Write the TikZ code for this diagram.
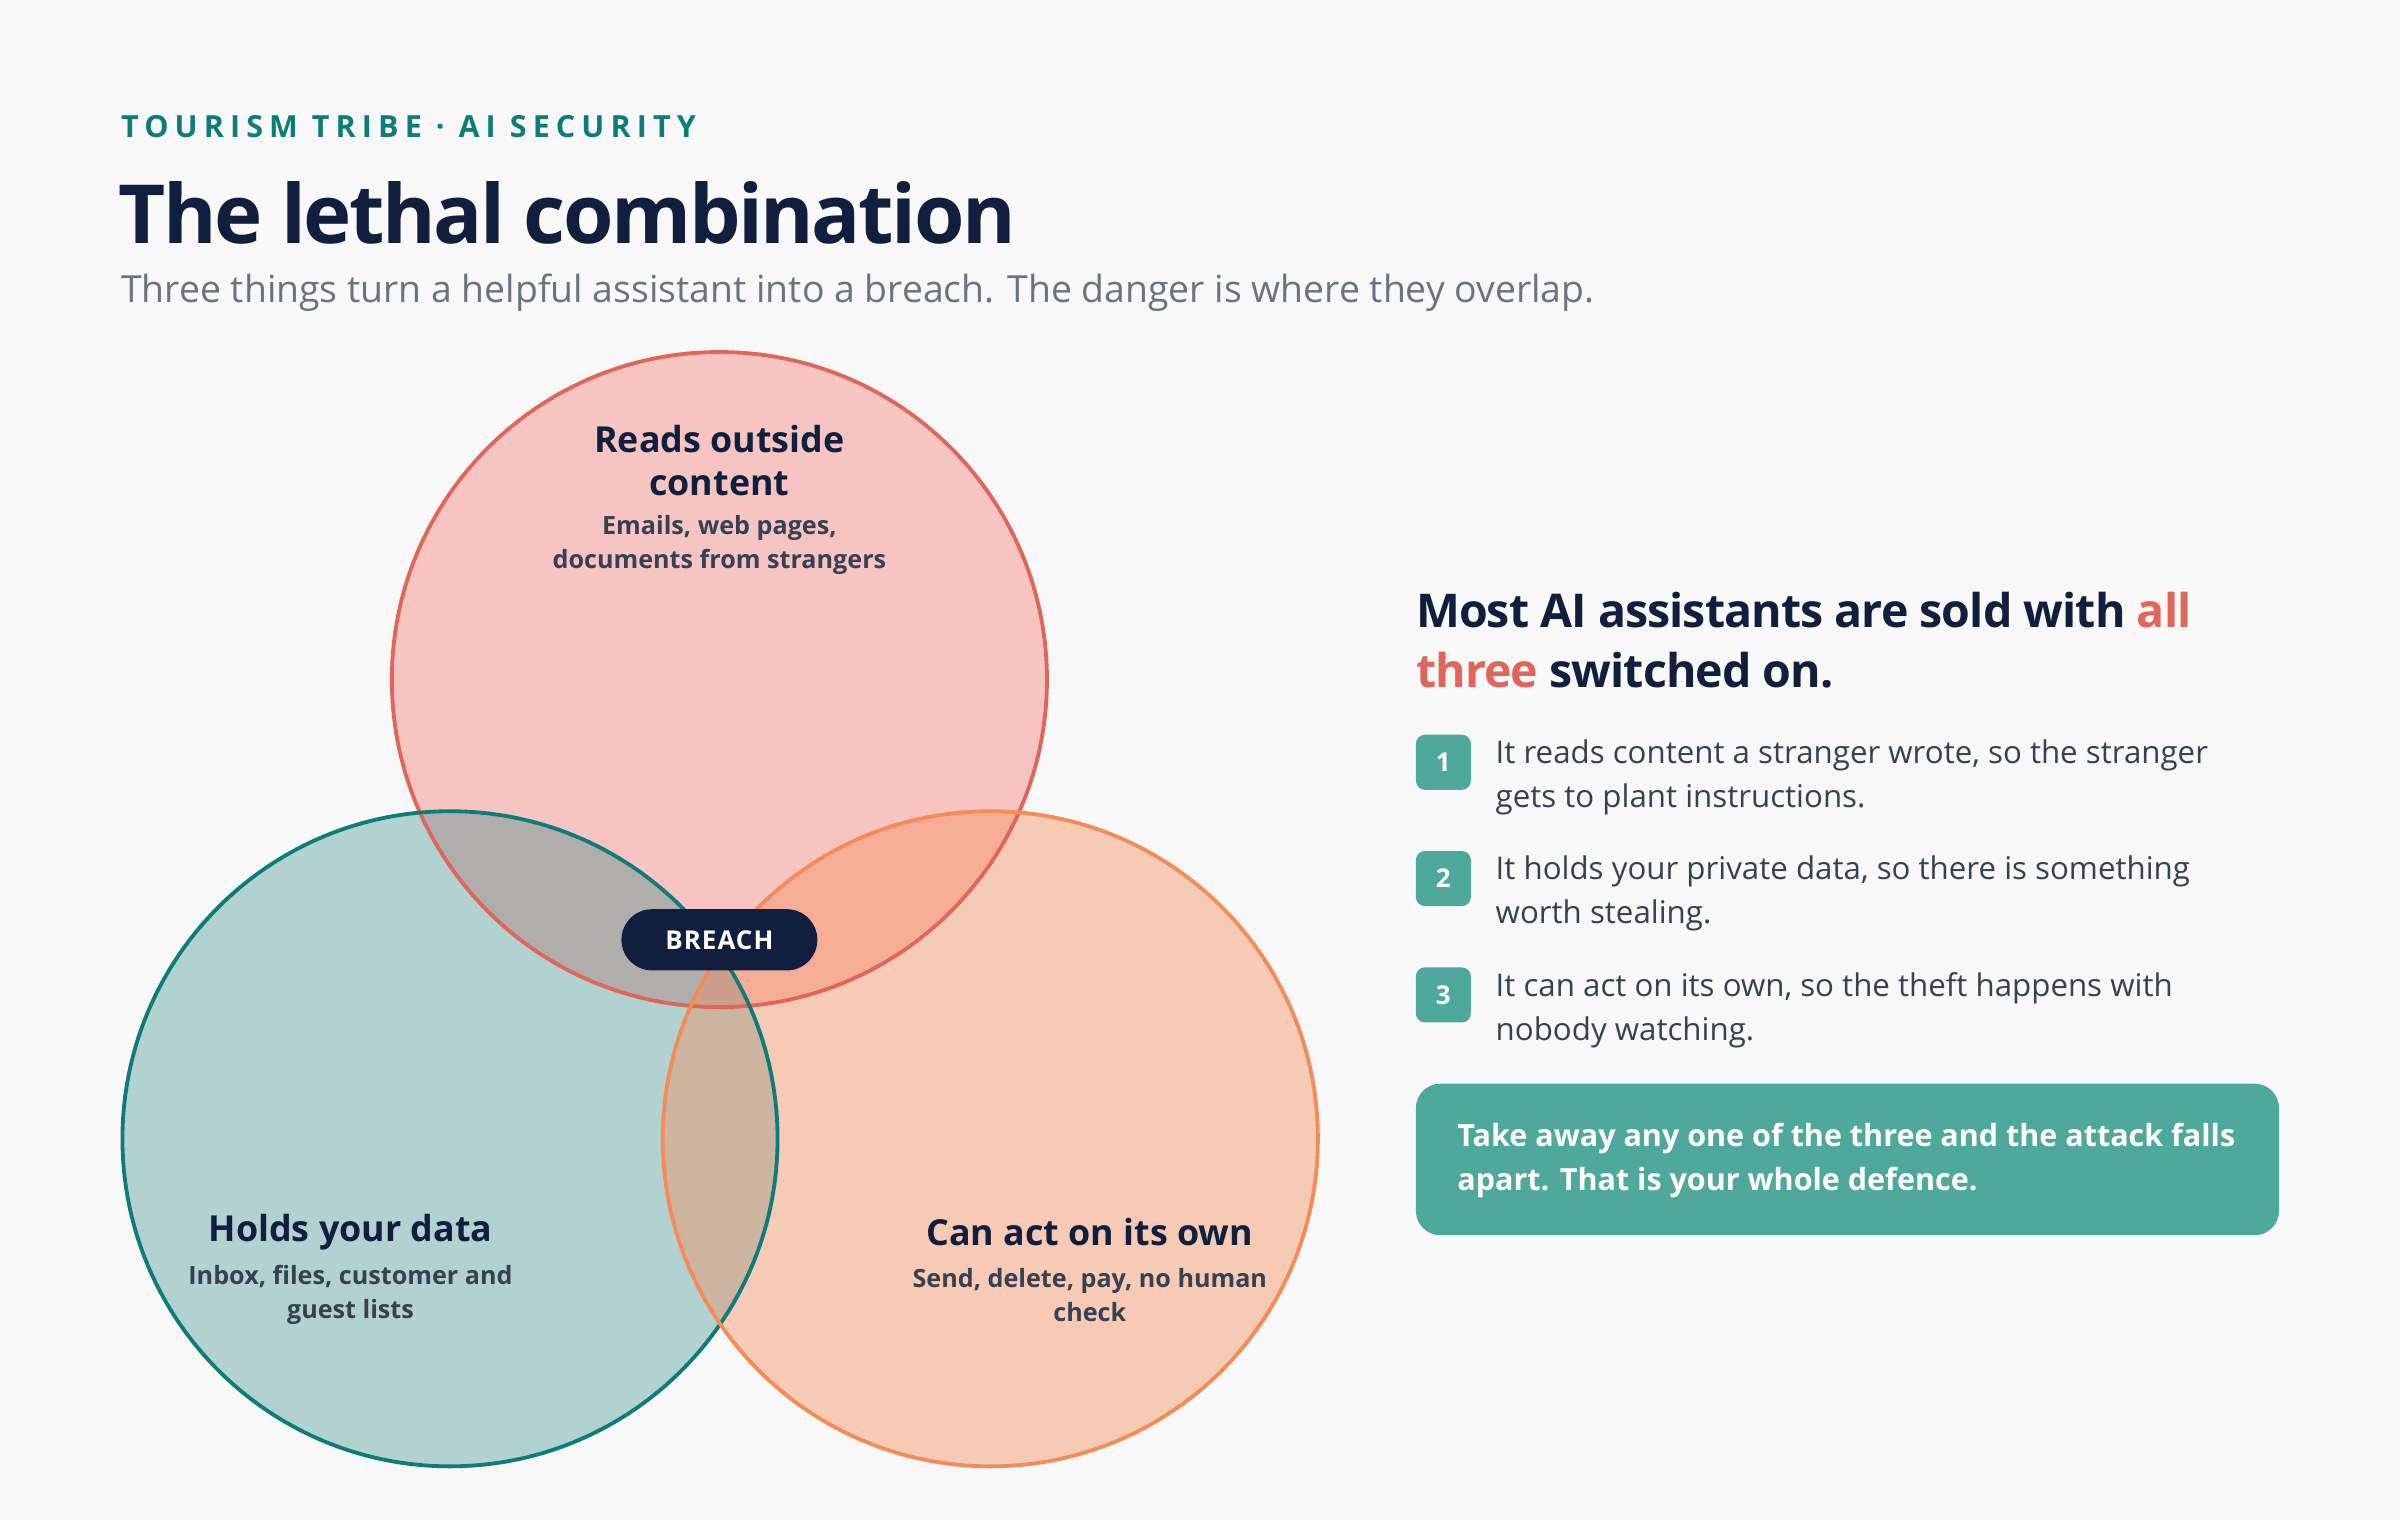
\documentclass[tikz,border=0pt]{standalone}
\usepackage{fontspec}
\setmainfont{Open Sans}
\definecolor{bg}{HTML}{F8F8F8}
\definecolor{navy}{HTML}{0F1F3D}
\definecolor{teal}{HTML}{0E7C78}
\definecolor{tealb}{HTML}{4FA89C}
\definecolor{coral}{HTML}{E0665C}
\definecolor{pinkf}{HTML}{F57A72}
\definecolor{orng}{HTML}{F48C5A}
\definecolor{body}{HTML}{374151}
\definecolor{grey}{HTML}{6B7280}
\newcommand{\fs}[2]{\fontsize{#1}{#2}\selectfont}
\begin{document}
\begin{tikzpicture}[x=1bp,y=-1bp,
  lbl/.style={align=center,text=navy,font=\fs{23.5}{28}\bfseries,inner sep=0},
  sub/.style={align=center,text=body,font=\fs{16.5}{22}\bfseries,inner sep=0},
  item/.style={anchor=north west,text=body,font=\fs{20.5}{29},align=left,inner sep=0},
  badge/.style={fill=tealb,rounded corners=6bp,minimum size=36bp,inner sep=0,text=white,font=\fs{17}{20}\bfseries}]
\fill[bg] (0,0) rectangle (1568,993);
\useasboundingbox (0,0) rectangle (1568,993);
\node[anchor=west,text=teal,font=\fs{20}{24}\bfseries\addfontfeature{LetterSpace=20},inner sep=0] (kick) at (79,83) {TOURISM TRIBE · AI SECURITY};
\node[anchor=west,text=navy,font=\fs{53.5}{60}\bfseries\addfontfeature{LetterSpace=-3},inner sep=0] (title) at (77,139) {The lethal combination};
\node[anchor=west,text=grey,font=\fs{24.5}{28},inner sep=0] (subt) at (79,191) {Three things turn a helpful assistant into a breach. The danger is where they overlap.};
\fill[pinkf,fill opacity=0.40] (470,444) circle (214);
\fill[teal,fill opacity=0.30] (294,744) circle (214);
\fill[orng,fill opacity=0.42] (647,744) circle (214);
\draw[coral,line width=2.5bp] (470,444) circle (214);
\draw[teal,line width=2.5bp] (294,744) circle (214);
\draw[orng,line width=2.5bp] (647,744) circle (214);
\node[lbl] (a) at (470,301) {Reads outside\\content};
\node[sub] (as) at (470,356) {Emails, web pages,\\documents from strangers};
\node[lbl] (b) at (229,805) {Holds your data};
\node[sub] (bs) at (229,846) {Inbox, files, customer and\\guest lists};
\node[lbl] (c) at (712,805) {Can act on its own};
\node[sub] (cs) at (712,846) {Send, delete, pay, no human\\check};
\node[fill=navy,rounded corners=20bp,minimum width=128bp,minimum height=40bp,text=white,font=\fs{17}{20}\bfseries\addfontfeature{LetterSpace=4}] (breach) at (470,614) {BREACH};
\node[anchor=north west,text=navy,font=\fs{30.5}{39}\bfseries\addfontfeature{LetterSpace=-2},align=left,inner sep=0] (head) at (925,387) {Most AI assistants are sold with \textcolor{coral}{all}\\\textcolor{coral}{three} switched on.};
\node[badge] (n1) at (943,498) {1};
\node[badge] (n2) at (943,574) {2};
\node[badge] (n3) at (943,650) {3};
\node[item] (t1) at (977,483) {It reads content a stranger wrote, so the stranger\\gets to plant instructions.};
\node[item] (t2) at (977,559) {It holds your private data, so there is something\\worth stealing.};
\node[item] (t3) at (977,635) {It can act on its own, so the theft happens with\\nobody watching.};
\fill[tealb,rounded corners=16bp] (925,708) rectangle (1489,807);
\node[anchor=west,text=white,font=\fs{20}{29}\bfseries,align=left,inner sep=0] (call) at (952,758) {Take away any one of the three and the attack falls\\apart. That is your whole defence.};
\end{tikzpicture}
\end{document}
